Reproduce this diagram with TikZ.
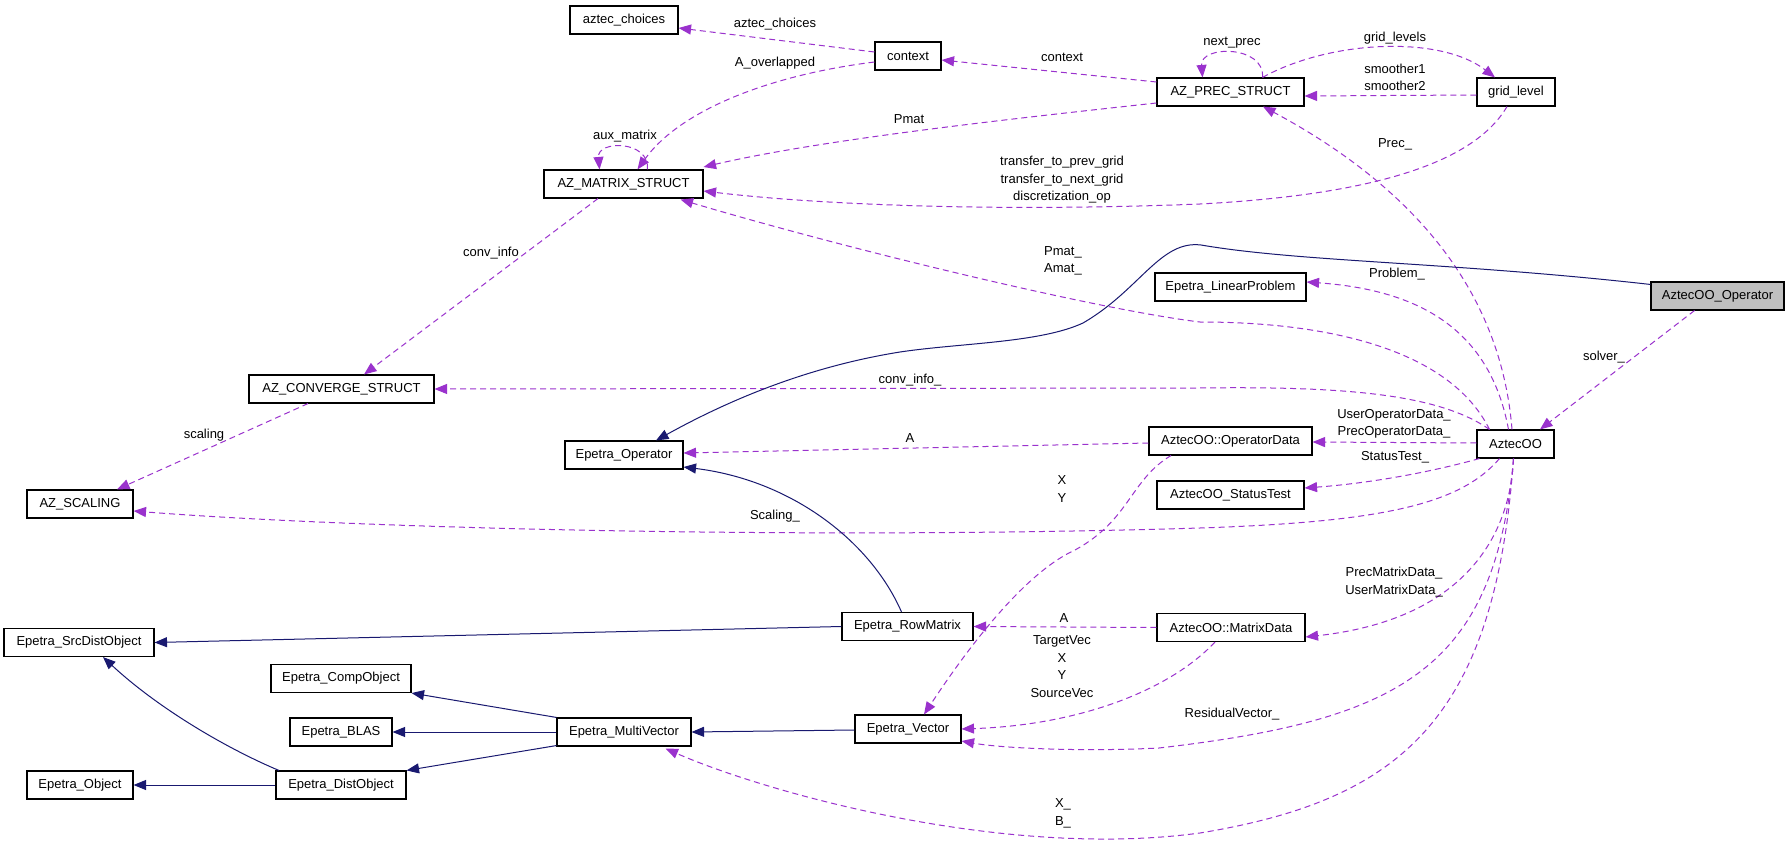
\documentclass[tikz,border=0pt]{standalone}
\usepackage{fontspec}
\setmainfont{Liberation Sans}
\usetikzlibrary{arrows.meta,calc}
\definecolor{pu}{HTML}{9A32CD}
\definecolor{nv}{HTML}{191970}
\definecolor{gf}{HTML}{BFBFBF}
\begin{document}
\begin{tikzpicture}[x=1pt,y=-1pt,
  cls/.style={draw=black, line width=1.1pt, minimum height=28pt, inner sep=0pt, font=\fontsize{13}{17.5}\selectfont},
  lab/.style={inner sep=0pt, align=center, font=\fontsize{13}{17.5}\selectfont},
  use/.style={draw=pu, line width=1pt, dash pattern=on 6pt off 4pt, -{Triangle[length=12.5pt,width=10pt]}},
  inh/.style={draw=nv, line width=1pt, -{Triangle[length=12.5pt,width=10pt]}}]
\fill[white] (0,0) rectangle (1789,845);
\useasboundingbox (0,0) rectangle (1789,845);

% classes
\node[cls, minimum width=108pt] (aztec) at (624,20) {aztec\_choices};
\node[cls, minimum width=66pt] (context) at (908,56) {context};
\node[cls, minimum width=147pt] (prec) at (1230.5,92) {AZ\_PREC\_STRUCT};
\node[cls, minimum width=78pt] (grid) at (1516,92) {grid\_level};
\node[cls, minimum width=159pt] (matrix) at (623.5,184) {AZ\_MATRIX\_STRUCT};
\node[cls, minimum width=151pt] (linprob) at (1230.5,287) {Epetra\_LinearProblem};
\node[cls, minimum width=133pt, fill=gf] (aop) at (1717.5,296) {AztecOO\_Operator};
\node[cls, minimum width=185pt] (conv) at (341.5,389) {AZ\_CONVERGE\_STRUCT};
\node[cls, minimum width=163pt] (opdata) at (1230.5,441) {AztecOO::OperatorData};
\node[cls, minimum width=77pt] (aztecoo) at (1515.5,444) {AztecOO};
\node[cls, minimum width=118pt] (eop) at (624,455) {Epetra\_Operator};
\node[cls, minimum width=106pt] (scal) at (80,504) {AZ\_SCALING};
\node[cls, minimum width=147pt] (stest) at (1230.5,495) {AztecOO\_StatusTest};
\node[cls, minimum width=150pt] (src) at (79,642.5) {Epetra\_SrcDistObject};
\node[cls, minimum width=131pt] (rowm) at (907.5,626.5) {Epetra\_RowMatrix};
\node[cls, minimum width=148pt] (mdata) at (1231,627.5) {AztecOO::MatrixData};
\node[cls, minimum width=140pt] (comp) at (341,678.5) {Epetra\_CompObject};
\node[cls, minimum width=102pt] (blas) at (341,732) {Epetra\_BLAS};
\node[cls, minimum width=134pt] (mv) at (624,732) {Epetra\_MultiVector};
\node[cls, minimum width=106pt] (vec) at (908,729) {Epetra\_Vector};
\node[cls, minimum width=106pt] (obj) at (80,785) {Epetra\_Object};
\node[cls, minimum width=130pt] (dist) at (341,785) {Epetra\_DistObject};

% usage (dashed purple)
\draw[use] ($(context.west)+(0,-4)$) -- ($(aztec.east)+(0,8)$);
\draw[use] ($(context.west)+(0,6)$) .. controls (770,75) and (680,110) .. ($(matrix.north)+(14,0)$);
\draw[use] ($(matrix.north)+(24,0)$) .. controls (650,140) and (597,140) .. ($(matrix.north)+(-24,0)$);
\draw[use] ($(prec.west)+(0,-10)$) -- ($(context.east)+(0,4)$);
\draw[use] ($(prec.west)+(0,11)$) .. controls (1000,120) and (820,140) .. ($(matrix.east)+(0,-17)$);
\draw[use] ($(prec.north)+(32,0)$) .. controls (1265,45) and (1200,45) .. ($(prec.north)+(-28,0)$);
\draw[use] ($(prec.north)+(32,0)$) .. controls (1330,40) and (1440,35) .. ($(grid.north)+(-21,0)$);
\draw[use] ($(grid.west)+(0,3)$) -- ($(prec.east)+(0,4)$);
\draw[use] ($(grid.south)+(-9,0)$) .. controls (1470,170) and (1350,196) .. (1200,204) .. controls (1000,212) and (820,205) .. ($(matrix.east)+(0,7)$);
\draw[use] ($(matrix.south)+(-25.5,0)$) -- ($(conv.north)+(22.5,0)$);
\draw[use] ($(conv.south)+(-33.5,0)$) -- ($(scal.north)+(37,0)$);
\draw[use] ($(aztecoo.north)+(-3.5,0)$) .. controls (1500,280) and (1400,180) .. ($(prec.south)+(32.5,0)$);
\draw[use] ($(aztecoo.north)+(-26,0)$) .. controls (1450,350) and (1330,322) .. (1200,322) .. controls (1100,310) and (850,250) .. ($(matrix.south east)+(-23,1)$);
\draw[use] ($(aztecoo.north)+(-7,0)$) .. controls (1490,330) and (1420,290) .. ($(linprob.east)+(0,-5)$);
\draw[use] ($(aztecoo.north)+(-26,0)$) .. controls (1440,395) and (1350,386) .. (1200,388) -- (conv.east);
\draw[use] ($(aztecoo.west)+(0,-1)$) -- ($(opdata.east)+(0,1)$);
\draw[use] ($(aztecoo.south west)+(3,0)$) .. controls (1420,475) and (1360,484) .. ($(stest.east)+(0,-7)$);
\draw[use] ($(aztecoo.south)+(-16,0)$) .. controls (1460,505) and (1380,522) .. (1200,528) .. controls (800,540) and (350,528) .. ($(scal.east)+(0,7)$);
\draw[use] ($(aztecoo.south)+(-2,0)$) .. controls (1510,540) and (1460,620) .. ($(mdata.east)+(0,9.5)$);
\draw[use] ($(aztecoo.south)+(-2,0)$) .. controls (1495,670) and (1400,720) .. (1159,748) .. controls (1080,752) and (1000,748) .. ($(vec.east)+(0,12)$);
\draw[use] ($(aztecoo.south)+(-2,0)$) .. controls (1495,720) and (1400,800) .. (1200,833) .. controls (1000,860) and (760,790) .. ($(mv.south east)+(-26,2)$);
\draw[use] ($(aop.south)+(-23,0)$) -- ($(aztecoo.north)+(24.5,0)$);
\draw[use] ($(opdata.west)+(0,2)$) -- ($(eop.east)+(0,-2)$);
\draw[use] ($(opdata.south)+(-59.5,0)$) .. controls (1130,480) and (1130,520) .. (1075,550) .. controls (1020,575) and (960,660) .. ($(vec.north)+(16,0)$);
\draw[use] (mdata.west) -- (rowm.east);
\draw[use] ($(mdata.south)+(-16,0)$) .. controls (1170,690) and (1080,725) .. (vec.east);

% inheritance (solid navy)
\draw[inh] ($(aop.north west)+(0,3)$) .. controls (1450,262) and (1300,262) .. (1201,245) .. controls (1160,240) and (1140,290) .. (1083,323) .. controls (1040,343) and (960,343) .. (900,352) .. controls (800,368) and (720,405) .. ($(eop.north)+(32,0)$);
\draw[inh] ($(rowm.north)+(-6,0)$) .. controls (870,540) and (790,480) .. ($(eop.east)+(0,12)$);
\draw[inh] (rowm.west) -- (src.east);
\draw[inh] ($(dist.north)+(-62,0)$) .. controls (230,750) and (160,710) .. ($(src.south)+(24,0)$);
\draw[inh] (dist.west) -- (obj.east);
\draw[inh] (mv.north west) -- (comp.south east);
\draw[inh] (mv.west) -- (blas.east);
\draw[inh] ($(mv.south west)+(0,-1)$) -- (dist.north east);
\draw[inh] ($(vec.west)+(0,1)$) -- (mv.east);

% labels
\node[lab] (l1) at (775,24) {aztec\_choices};
\node[lab] (l2) at (775,63) {A\_overlapped};
\node[lab] (l3) at (1062,57) {context};
\node[lab] (l4) at (1232,43) {next\_prec};
\node[lab] (l5) at (1395,38) {grid\_levels};
\node[lab] (l6) at (1395,77.5) {smoother1\\smoother2};
\node[lab] (l7) at (625,136) {aux\_matrix};
\node[lab] (l8) at (909,119) {Pmat};
\node[lab] (l9) at (1395,144) {Prec\_};
\node[lab] (l10) at (1062,180) {transfer\_to\_prev\_grid\\transfer\_to\_next\_grid\\discretization\_op};
\node[lab] (l11) at (491,253) {conv\_info};
\node[lab] (l12) at (1063,261) {Pmat\_\\Amat\_};
\node[lab] (l13) at (1397,274) {Problem\_};
\node[lab] (l14) at (1604,357) {solver\_};
\node[lab] (l15) at (910,380) {conv\_info\_};
\node[lab] (l16) at (1394,424) {UserOperatorData\_\\PrecOperatorData\_};
\node[lab] (l17) at (910,438) {A};
\node[lab] (l18) at (204,435) {scaling};
\node[lab] (l19) at (1395,457) {StatusTest\_};
\node[lab] (l20) at (1062,489) {X\\Y};
\node[lab] (l21) at (775,516) {Scaling\_};
\node[lab] (l22) at (1394,582) {PrecMatrixData\_\\UserMatrixData\_};
\node[lab] (l23) at (1064,618) {A};
\node[lab] (l24) at (1062,666.5) {TargetVec\\X\\Y\\SourceVec};
\node[lab] (l25) at (1232,714) {ResidualVector\_};
\node[lab] (l26) at (1063,813.5) {X\_\\B\_};
\end{tikzpicture}
\end{document}
